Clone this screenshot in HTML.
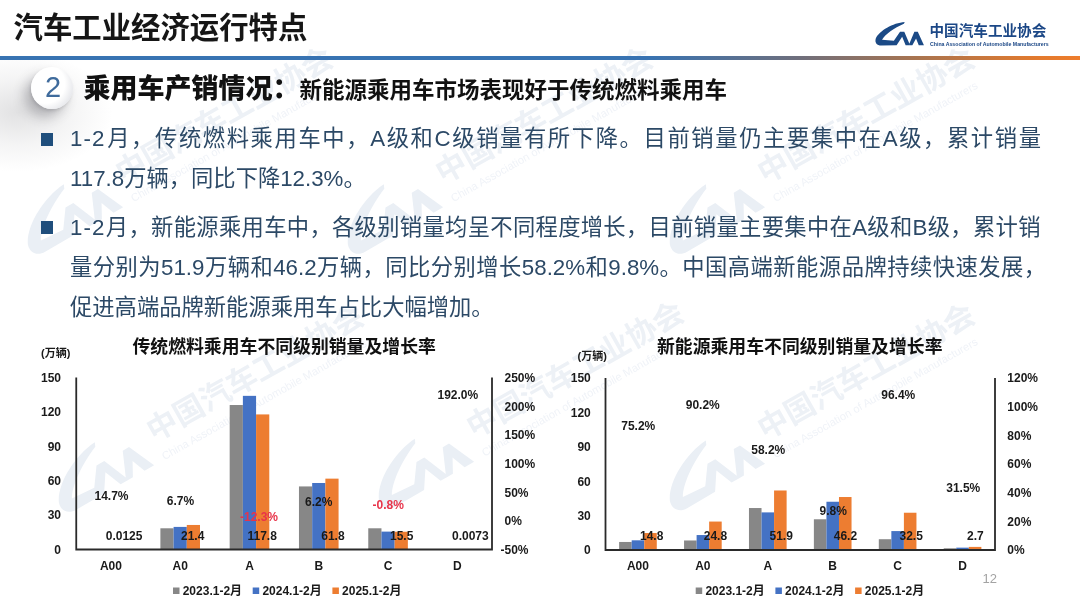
<!DOCTYPE html>
<html lang="zh-CN"><head><meta charset="utf-8"><title>汽车工业经济运行特点</title>
<style>
html,body{margin:0;padding:0;background:#fff;}
body{width:1080px;height:607px;overflow:hidden;position:relative;font-family:"Liberation Sans","Noto Sans CJK SC",sans-serif;}
#s{position:absolute;left:0;top:0;width:1080px;height:607px;overflow:hidden;background:#fff;}
.abs{position:absolute;white-space:nowrap;}
#bgshade{position:absolute;left:0;top:60px;width:200px;height:120px;background:radial-gradient(ellipse 95px 60px at 18px 52px,rgba(120,120,125,.22),rgba(120,120,125,.08) 55%,rgba(120,120,125,0) 100%);}
#hl{position:absolute;left:0;top:56.3px;width:1080px;height:3.6px;background:linear-gradient(90deg,#3873b2 0%,#3873b2 60%,#6f6f7c 74%,#a9744f 85%,#e27a2e 96%,#ee7d2c 100%);}
#title{left:13.5px;top:8px;height:40px;line-height:40px;font-size:29.4px;font-weight:bold;color:#161616;}
#circ{position:absolute;left:31px;top:66.5px;width:42px;height:42px;border-radius:50%;background:radial-gradient(circle at 34% 40%,#ffffff 0%,#ffffff 52%,#e6e7eb 78%,#cfd0d6 100%);box-shadow:-7px 8px 12px rgba(60,60,70,.30),-1px 2px 3px rgba(60,60,70,.15);}
#num{left:32.2px;top:65.6px;width:42px;height:42px;line-height:42px;text-align:center;font-size:29px;color:#3f6b9c;}
#sub{left:83.6px;top:69px;height:40px;line-height:40px;font-weight:bold;color:#111;font-size:22.5px;}
#sub b{font-size:27px;}
.bl{position:absolute;left:70px;height:40px;line-height:40px;font-size:22.3px;color:#2c4966;white-space:nowrap;}
.ls{letter-spacing:1.1px;}
.bu{position:absolute;left:40.5px;width:12.6px;height:12.6px;background:#1f4e7c;}
#lgt{left:929.5px;top:21.2px;height:21px;line-height:21px;font-size:14.6px;font-weight:bold;color:#1b4786;}
#lge{left:929.5px;top:36.5px;height:15px;line-height:15px;font-size:13px;font-weight:bold;color:#1b4786;transform:scale(.4);transform-origin:0 50%;}
svg text{font-family:"Liberation Sans","Noto Sans CJK SC",sans-serif;}
</style></head><body><div id="s">
<div id="bgshade"></div>
<svg class="abs" style="left:0;top:0" width="1080" height="607" viewBox="0 0 1080 607"><g transform="translate(131 167) rotate(-29.4) scale(2.1)"><g transform="translate(-66.65 -14.4) scale(0.5602)" fill="#eaeff5"><path d="M62 10.5 C41 12 16.5 26 10.3 40 C8 47.5 12.5 52.7 20 52.7 L47.5 52.3 L57.4 37 L63.6 52.3 L71.5 52.3 L61.2 28.3 L53.6 28.3 L42.6 44 L21.5 42.6 C27 33 43 21.5 60.5 14 Z M70.2 49.5 L79.2 28.3 L85.3 28.3 L96.3 52.3 L87 52.3 L82.2 40 L75.6 52.3 L71.4 52.3 Z" stroke="none"/></g><text x="-7.25" y="5.3" font-size="14.5" font-weight="bold" fill="#edf1f6">中国汽车工业协会</text><text x="-7.25" y="15.2" font-size="5.3" fill="#f0f3f8">China Association of Automobile Manufacturers</text></g><g transform="translate(451 167) rotate(-29.4) scale(2.1)"><g transform="translate(-66.65 -14.4) scale(0.5602)" fill="#eaeff5"><path d="M62 10.5 C41 12 16.5 26 10.3 40 C8 47.5 12.5 52.7 20 52.7 L47.5 52.3 L57.4 37 L63.6 52.3 L71.5 52.3 L61.2 28.3 L53.6 28.3 L42.6 44 L21.5 42.6 C27 33 43 21.5 60.5 14 Z M70.2 49.5 L79.2 28.3 L85.3 28.3 L96.3 52.3 L87 52.3 L82.2 40 L75.6 52.3 L71.4 52.3 Z" stroke="none"/></g><text x="-7.25" y="5.3" font-size="14.5" font-weight="bold" fill="#edf1f6">中国汽车工业协会</text><text x="-7.25" y="15.2" font-size="5.3" fill="#f0f3f8">China Association of Automobile Manufacturers</text></g><g transform="translate(773 167) rotate(-29.4) scale(2.1)"><g transform="translate(-66.65 -14.4) scale(0.5602)" fill="#eaeff5"><path d="M62 10.5 C41 12 16.5 26 10.3 40 C8 47.5 12.5 52.7 20 52.7 L47.5 52.3 L57.4 37 L63.6 52.3 L71.5 52.3 L61.2 28.3 L53.6 28.3 L42.6 44 L21.5 42.6 C27 33 43 21.5 60.5 14 Z M70.2 49.5 L79.2 28.3 L85.3 28.3 L96.3 52.3 L87 52.3 L82.2 40 L75.6 52.3 L71.4 52.3 Z" stroke="none"/></g><text x="-7.25" y="5.3" font-size="14.5" font-weight="bold" fill="#edf1f6">中国汽车工业协会</text><text x="-7.25" y="15.2" font-size="5.3" fill="#f0f3f8">China Association of Automobile Manufacturers</text></g><g transform="translate(162 425) rotate(-29.4) scale(2.1)"><g transform="translate(-66.65 -14.4) scale(0.5602)" fill="#eaeff5"><path d="M62 10.5 C41 12 16.5 26 10.3 40 C8 47.5 12.5 52.7 20 52.7 L47.5 52.3 L57.4 37 L63.6 52.3 L71.5 52.3 L61.2 28.3 L53.6 28.3 L42.6 44 L21.5 42.6 C27 33 43 21.5 60.5 14 Z M70.2 49.5 L79.2 28.3 L85.3 28.3 L96.3 52.3 L87 52.3 L82.2 40 L75.6 52.3 L71.4 52.3 Z" stroke="none"/></g><text x="-7.25" y="5.3" font-size="14.5" font-weight="bold" fill="#edf1f6">中国汽车工业协会</text><text x="-7.25" y="15.2" font-size="5.3" fill="#f0f3f8">China Association of Automobile Manufacturers</text></g><g transform="translate(482 421.5) rotate(-29.4) scale(2.1)"><g transform="translate(-66.65 -14.4) scale(0.5602)" fill="#eaeff5"><path d="M62 10.5 C41 12 16.5 26 10.3 40 C8 47.5 12.5 52.7 20 52.7 L47.5 52.3 L57.4 37 L63.6 52.3 L71.5 52.3 L61.2 28.3 L53.6 28.3 L42.6 44 L21.5 42.6 C27 33 43 21.5 60.5 14 Z M70.2 49.5 L79.2 28.3 L85.3 28.3 L96.3 52.3 L87 52.3 L82.2 40 L75.6 52.3 L71.4 52.3 Z" stroke="none"/></g><text x="-7.25" y="5.3" font-size="14.5" font-weight="bold" fill="#edf1f6">中国汽车工业协会</text><text x="-7.25" y="15.2" font-size="5.3" fill="#f0f3f8">China Association of Automobile Manufacturers</text></g><g transform="translate(773 423.3) rotate(-29.4) scale(2.1)"><g transform="translate(-66.65 -14.4) scale(0.5602)" fill="#eaeff5"><path d="M62 10.5 C41 12 16.5 26 10.3 40 C8 47.5 12.5 52.7 20 52.7 L47.5 52.3 L57.4 37 L63.6 52.3 L71.5 52.3 L61.2 28.3 L53.6 28.3 L42.6 44 L21.5 42.6 C27 33 43 21.5 60.5 14 Z M70.2 49.5 L79.2 28.3 L85.3 28.3 L96.3 52.3 L87 52.3 L82.2 40 L75.6 52.3 L71.4 52.3 Z" stroke="none"/></g><text x="-7.25" y="5.3" font-size="14.5" font-weight="bold" fill="#edf1f6">中国汽车工业协会</text><text x="-7.25" y="15.2" font-size="5.3" fill="#f0f3f8">China Association of Automobile Manufacturers</text></g></svg>
<div id="hl"></div>
<div id="title" class="abs">汽车工业经济运行特点</div>
<svg class="abs" style="left:870px;top:16px" width="60" height="34" viewBox="0 0 107.1 60.7"><g fill="#1b4a86"><path d="M62 10.5 C41 12 16.5 26 10.3 40 C8 47.5 12.5 52.7 20 52.7 L47.5 52.3 L57.4 37 L63.6 52.3 L71.5 52.3 L61.2 28.3 L53.6 28.3 L42.6 44 L21.5 42.6 C27 33 43 21.5 60.5 14 Z M70.2 49.5 L79.2 28.3 L85.3 28.3 L96.3 52.3 L87 52.3 L82.2 40 L75.6 52.3 L71.4 52.3 Z" stroke="none"/></g></svg>
<div id="lgt" class="abs">中国汽车工业协会</div>
<div id="lge" class="abs">China Association of Automobile Manufacturers</div>
<div id="circ"></div><div id="num" class="abs">2</div>
<div id="sub" class="abs"><b>乘用车产销情况：</b>新能源乘用车市场表现好于传统燃料乘用车</div>
<div class="bu" style="top:133px"></div><div class="bu" style="top:221.2px"></div>
<div class="bl" style="top:118.75px;width:971px;text-align:justify;text-align-last:justify;text-justify:inter-character;"><span class="ls">1-2</span>月，传统燃料乘用车中，A级和C级销量有所下降。目前销量仍主要集中在A级，累计销量</div>
<div class="bl" style="top:158.75px;width:971px;">117.8万辆，同比下降12.3%。</div>
<div class="bl" style="top:207.50px;width:970.5px;text-align:justify;text-align-last:justify;text-justify:inter-character;"><span class="ls">1-2</span>月，新能源乘用车中，各级别销量均呈不同程度增长，目前销量主要集中在A级和B级，累计销</div>
<div class="bl" style="top:247.50px;width:976px;text-align:justify;text-align-last:justify;text-justify:inter-character;">量分别为51.9万辆和46.2万辆，同比分别增长58.2%和9.8%。中国高端新能源品牌持续快速发展，</div>
<div class="bl" style="top:288.00px;width:971px;">促进高端品牌新能源乘用车占比大幅增加。</div>

<svg class="abs" style="left:0;top:0" width="1080" height="607" viewBox="0 0 1080 607">
<rect x="160.39" y="528.29" width="13.20" height="21.21" fill="#878787"/>
<rect x="173.59" y="526.91" width="13.20" height="22.59" fill="#4472c4"/>
<rect x="186.79" y="524.96" width="13.20" height="24.54" fill="#ed7d31"/>
<rect x="229.68" y="405.02" width="13.20" height="144.48" fill="#878787"/>
<rect x="242.88" y="395.85" width="13.20" height="153.65" fill="#4472c4"/>
<rect x="256.08" y="414.42" width="13.20" height="135.08" fill="#ed7d31"/>
<rect x="298.97" y="486.43" width="13.20" height="63.07" fill="#878787"/>
<rect x="312.17" y="482.99" width="13.20" height="66.51" fill="#4472c4"/>
<rect x="325.37" y="478.64" width="13.20" height="70.86" fill="#ed7d31"/>
<rect x="368.26" y="528.29" width="13.20" height="21.21" fill="#878787"/>
<rect x="381.46" y="531.61" width="13.20" height="17.89" fill="#4472c4"/>
<rect x="394.66" y="531.73" width="13.20" height="17.77" fill="#ed7d31"/>
<path d="M76.25 377.5 V549.5 H492 V377.5" fill="none" stroke="#2a2a2a" stroke-width="1.8"/>
<text x="61.00" y="553.87" font-size="12" text-anchor="end" fill="#1a1a1a" font-weight="bold">0</text>
<text x="61.00" y="519.47" font-size="12" text-anchor="end" fill="#1a1a1a" font-weight="bold">30</text>
<text x="61.00" y="485.07" font-size="12" text-anchor="end" fill="#1a1a1a" font-weight="bold">60</text>
<text x="61.00" y="450.67" font-size="12" text-anchor="end" fill="#1a1a1a" font-weight="bold">90</text>
<text x="61.00" y="416.27" font-size="12" text-anchor="end" fill="#1a1a1a" font-weight="bold">120</text>
<text x="61.00" y="381.87" font-size="12" text-anchor="end" fill="#1a1a1a" font-weight="bold">150</text>
<text x="500.50" y="553.87" font-size="12" text-anchor="start" fill="#1a1a1a" font-weight="bold">-50%</text>
<text x="504.50" y="525.21" font-size="12" text-anchor="start" fill="#1a1a1a" font-weight="bold">0%</text>
<text x="504.50" y="496.54" font-size="12" text-anchor="start" fill="#1a1a1a" font-weight="bold">50%</text>
<text x="504.50" y="467.87" font-size="12" text-anchor="start" fill="#1a1a1a" font-weight="bold">100%</text>
<text x="504.50" y="439.21" font-size="12" text-anchor="start" fill="#1a1a1a" font-weight="bold">150%</text>
<text x="504.50" y="410.54" font-size="12" text-anchor="start" fill="#1a1a1a" font-weight="bold">200%</text>
<text x="504.50" y="381.87" font-size="12" text-anchor="start" fill="#1a1a1a" font-weight="bold">250%</text>
<text x="110.90" y="570.37" font-size="12" text-anchor="middle" fill="#1a1a1a" font-weight="bold">A00</text>
<text x="180.19" y="570.37" font-size="12" text-anchor="middle" fill="#1a1a1a" font-weight="bold">A0</text>
<text x="249.48" y="570.37" font-size="12" text-anchor="middle" fill="#1a1a1a" font-weight="bold">A</text>
<text x="318.77" y="570.37" font-size="12" text-anchor="middle" fill="#1a1a1a" font-weight="bold">B</text>
<text x="388.06" y="570.37" font-size="12" text-anchor="middle" fill="#1a1a1a" font-weight="bold">C</text>
<text x="457.35" y="570.37" font-size="12" text-anchor="middle" fill="#1a1a1a" font-weight="bold">D</text>
<text x="105.75" y="540.37" font-size="12" text-anchor="start" fill="#1a1a1a" font-weight="bold">0.0125</text>
<text x="181.00" y="540.37" font-size="12" text-anchor="start" fill="#1a1a1a" font-weight="bold">21.4</text>
<text x="247.50" y="540.37" font-size="12" text-anchor="start" fill="#1a1a1a" font-weight="bold">117.8</text>
<text x="321.25" y="540.37" font-size="12" text-anchor="start" fill="#1a1a1a" font-weight="bold">61.8</text>
<text x="390.00" y="540.37" font-size="12" text-anchor="start" fill="#1a1a1a" font-weight="bold">15.5</text>
<text x="452.00" y="540.37" font-size="12" text-anchor="start" fill="#1a1a1a" font-weight="bold">0.0073</text>
<text x="94.50" y="500.12" font-size="12" text-anchor="start" fill="#1a1a1a" font-weight="bold">14.7%</text>
<text x="166.75" y="504.87" font-size="12" text-anchor="start" fill="#1a1a1a" font-weight="bold">6.7%</text>
<text x="240.00" y="521.37" font-size="12" text-anchor="start" fill="#e8344a" font-weight="bold">-12.3%</text>
<text x="305.00" y="505.62" font-size="12" text-anchor="start" fill="#1a1a1a" font-weight="bold">6.2%</text>
<text x="372.50" y="509.37" font-size="12" text-anchor="start" fill="#e8344a" font-weight="bold">-0.8%</text>
<text x="437.50" y="398.62" font-size="12" text-anchor="start" fill="#1a1a1a" font-weight="bold">192.0%</text>
<text x="41.00" y="356.51" font-size="11" text-anchor="start" fill="#1a1a1a" font-weight="bold">(万辆)</text>
<text x="132.5" y="352.98" font-size="17.85" font-weight="bold" fill="#111">传统燃料乘用车不同级别销量及增长率</text>
<rect x="173.00" y="587.5" width="6.5" height="6.5" fill="#878787"/>
<text x="182.70" y="595.12" font-size="12" text-anchor="start" fill="#1a1a1a" font-weight="bold">2023.1-2月</text>
<rect x="252.70" y="587.5" width="6.5" height="6.5" fill="#4472c4"/>
<text x="262.40" y="595.12" font-size="12" text-anchor="start" fill="#1a1a1a" font-weight="bold">2024.1-2月</text>
<rect x="332.40" y="587.5" width="6.5" height="6.5" fill="#ed7d31"/>
<text x="342.10" y="595.12" font-size="12" text-anchor="start" fill="#1a1a1a" font-weight="bold">2025.1-2月</text>
<rect x="619.13" y="541.97" width="12.55" height="8.03" fill="#878787"/>
<rect x="631.68" y="540.31" width="12.55" height="9.69" fill="#4472c4"/>
<rect x="644.23" y="533.03" width="12.55" height="16.97" fill="#ed7d31"/>
<rect x="684.05" y="540.48" width="12.55" height="9.52" fill="#878787"/>
<rect x="696.60" y="535.05" width="12.55" height="14.95" fill="#4472c4"/>
<rect x="709.15" y="521.56" width="12.55" height="28.44" fill="#ed7d31"/>
<rect x="748.97" y="508.03" width="12.55" height="41.97" fill="#878787"/>
<rect x="761.52" y="512.39" width="12.55" height="37.61" fill="#4472c4"/>
<rect x="774.07" y="490.49" width="12.55" height="59.51" fill="#ed7d31"/>
<rect x="813.88" y="519.27" width="12.55" height="30.73" fill="#878787"/>
<rect x="826.43" y="501.75" width="12.55" height="48.25" fill="#4472c4"/>
<rect x="838.98" y="497.02" width="12.55" height="52.98" fill="#ed7d31"/>
<rect x="878.80" y="539.22" width="12.55" height="10.78" fill="#878787"/>
<rect x="891.35" y="531.08" width="12.55" height="18.92" fill="#4472c4"/>
<rect x="903.90" y="512.73" width="12.55" height="37.27" fill="#ed7d31"/>
<rect x="943.72" y="548.28" width="12.55" height="1.72" fill="#878787"/>
<rect x="956.27" y="547.65" width="12.55" height="2.35" fill="#4472c4"/>
<rect x="968.82" y="546.90" width="12.55" height="3.10" fill="#ed7d31"/>
<path d="M605.5 378 V550 H995 V378" fill="none" stroke="#2a2a2a" stroke-width="1.8"/>
<text x="590.75" y="554.37" font-size="12" text-anchor="end" fill="#1a1a1a" font-weight="bold">0</text>
<text x="590.75" y="519.97" font-size="12" text-anchor="end" fill="#1a1a1a" font-weight="bold">30</text>
<text x="590.75" y="485.57" font-size="12" text-anchor="end" fill="#1a1a1a" font-weight="bold">60</text>
<text x="590.75" y="451.17" font-size="12" text-anchor="end" fill="#1a1a1a" font-weight="bold">90</text>
<text x="590.75" y="416.77" font-size="12" text-anchor="end" fill="#1a1a1a" font-weight="bold">120</text>
<text x="590.75" y="382.37" font-size="12" text-anchor="end" fill="#1a1a1a" font-weight="bold">150</text>
<text x="1007.30" y="554.37" font-size="12" text-anchor="start" fill="#1a1a1a" font-weight="bold">0%</text>
<text x="1007.30" y="525.71" font-size="12" text-anchor="start" fill="#1a1a1a" font-weight="bold">20%</text>
<text x="1007.30" y="497.04" font-size="12" text-anchor="start" fill="#1a1a1a" font-weight="bold">40%</text>
<text x="1007.30" y="468.37" font-size="12" text-anchor="start" fill="#1a1a1a" font-weight="bold">60%</text>
<text x="1007.30" y="439.71" font-size="12" text-anchor="start" fill="#1a1a1a" font-weight="bold">80%</text>
<text x="1007.30" y="411.04" font-size="12" text-anchor="start" fill="#1a1a1a" font-weight="bold">100%</text>
<text x="1007.30" y="382.37" font-size="12" text-anchor="start" fill="#1a1a1a" font-weight="bold">120%</text>
<text x="637.96" y="570.37" font-size="12" text-anchor="middle" fill="#1a1a1a" font-weight="bold">A00</text>
<text x="702.88" y="570.37" font-size="12" text-anchor="middle" fill="#1a1a1a" font-weight="bold">A0</text>
<text x="767.79" y="570.37" font-size="12" text-anchor="middle" fill="#1a1a1a" font-weight="bold">A</text>
<text x="832.71" y="570.37" font-size="12" text-anchor="middle" fill="#1a1a1a" font-weight="bold">B</text>
<text x="897.62" y="570.37" font-size="12" text-anchor="middle" fill="#1a1a1a" font-weight="bold">C</text>
<text x="962.54" y="570.37" font-size="12" text-anchor="middle" fill="#1a1a1a" font-weight="bold">D</text>
<text x="640.00" y="540.37" font-size="12" text-anchor="start" fill="#1a1a1a" font-weight="bold">14.8</text>
<text x="703.75" y="540.37" font-size="12" text-anchor="start" fill="#1a1a1a" font-weight="bold">24.8</text>
<text x="769.50" y="540.37" font-size="12" text-anchor="start" fill="#1a1a1a" font-weight="bold">51.9</text>
<text x="833.75" y="540.37" font-size="12" text-anchor="start" fill="#1a1a1a" font-weight="bold">46.2</text>
<text x="899.50" y="540.37" font-size="12" text-anchor="start" fill="#1a1a1a" font-weight="bold">32.5</text>
<text x="967.00" y="540.37" font-size="12" text-anchor="start" fill="#1a1a1a" font-weight="bold">2.7</text>
<text x="621.25" y="429.87" font-size="12" text-anchor="start" fill="#1a1a1a" font-weight="bold">75.2%</text>
<text x="685.75" y="408.62" font-size="12" text-anchor="start" fill="#1a1a1a" font-weight="bold">90.2%</text>
<text x="751.25" y="454.37" font-size="12" text-anchor="start" fill="#1a1a1a" font-weight="bold">58.2%</text>
<text x="819.50" y="514.87" font-size="12" text-anchor="start" fill="#1a1a1a" font-weight="bold">9.8%</text>
<text x="881.25" y="399.37" font-size="12" text-anchor="start" fill="#1a1a1a" font-weight="bold">96.4%</text>
<text x="946.25" y="491.87" font-size="12" text-anchor="start" fill="#1a1a1a" font-weight="bold">31.5%</text>
<text x="577.50" y="359.76" font-size="11" text-anchor="start" fill="#1a1a1a" font-weight="bold">(万辆)</text>
<text x="657" y="352.98" font-size="17.85" font-weight="bold" fill="#111">新能源乘用车不同级别销量及增长率</text>
<rect x="695.70" y="587.5" width="6.5" height="6.5" fill="#878787"/>
<text x="705.40" y="595.12" font-size="12" text-anchor="start" fill="#1a1a1a" font-weight="bold">2023.1-2月</text>
<rect x="775.40" y="587.5" width="6.5" height="6.5" fill="#4472c4"/>
<text x="785.10" y="595.12" font-size="12" text-anchor="start" fill="#1a1a1a" font-weight="bold">2024.1-2月</text>
<rect x="855.10" y="587.5" width="6.5" height="6.5" fill="#ed7d31"/>
<text x="864.80" y="595.12" font-size="12" text-anchor="start" fill="#1a1a1a" font-weight="bold">2025.1-2月</text>
</svg>
<div class="abs" style="left:982.5px;top:570px;height:18px;line-height:18px;font-size:13px;color:#a3a3a3;">12</div>
</div></body></html>
